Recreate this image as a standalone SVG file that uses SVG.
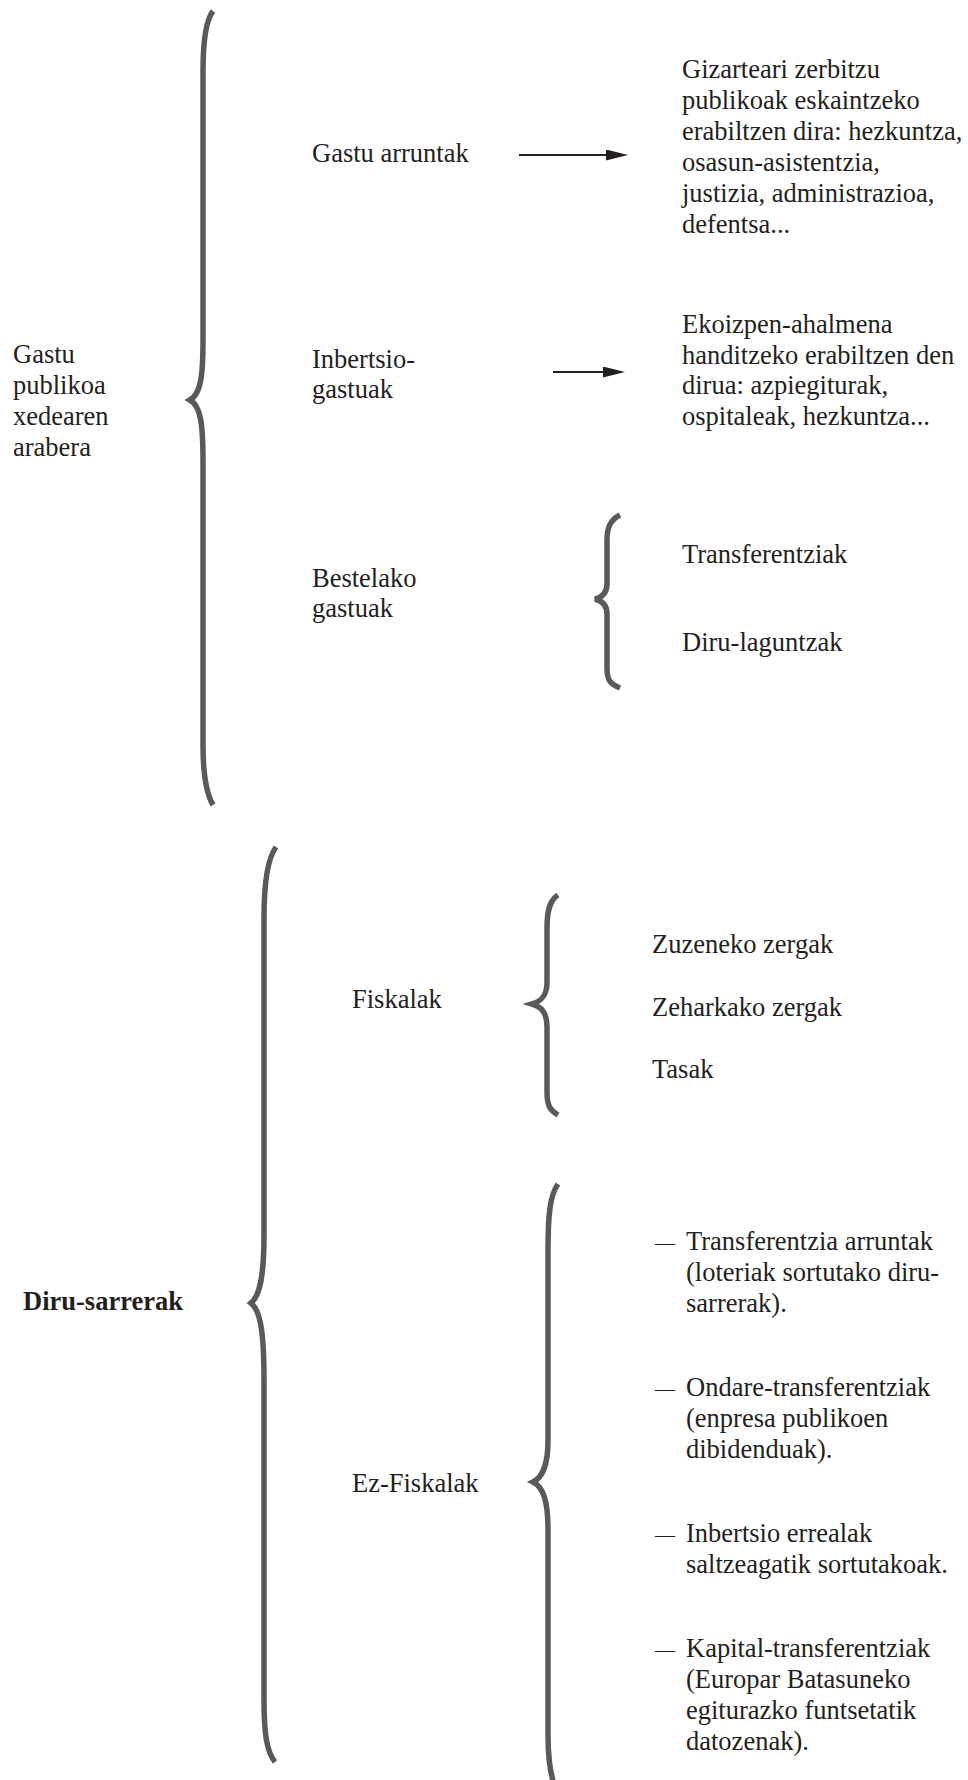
<svg xmlns="http://www.w3.org/2000/svg" width="968" height="1780" viewBox="0 0 968 1780">
  <style>
    text { font-family: "Liberation Serif", "Times New Roman", serif; font-size: 26.5px; fill: #231f20; }
    .bold { font-weight: bold; }
    .dash { font-size: 20px; }
    .brace { fill: none; stroke: #58595b; stroke-width: 5.5; stroke-linecap: butt; stroke-linejoin: miter; }
    .arrow { stroke: #231f20; stroke-width: 2; fill: none; marker-end: url(#head); }
  </style>
  <defs>
    <marker id="head" markerUnits="userSpaceOnUse" markerWidth="24" markerHeight="12" refX="2" refY="5.5" orient="auto">
      <path d="M0,0 L22,5.5 L0,11 Z" fill="#231f20"/>
    </marker>
  </defs>
  <rect width="968" height="1780" fill="#ffffff"/>

  <!-- braces -->
  <g id="braces">
    <path id="brace-gastu" class="brace" d="M213,11 C206,20 203,40 203,72 L203,340 C203,375 201,394 190,400 C201,406 203,425 203,462 L203,745 C203,775 206,793 213,805"/>
    <path id="brace-bestelako" class="brace" d="M620,515 C610,520 607,528 607,540 L607,584 C607,592 603,597 595,599 C603,601 607,606 607,614 L607,668 C607,680 610,684 620,688"/>
    <path id="brace-sarrerak" class="brace" d="M276,847 C268,858 264,880 264,918 L264,1235 C264,1275 260,1296 251,1303 C260,1310 264,1330 264,1380 L264,1700 C264,1735 267,1752 275,1762"/>
    <path id="brace-fiskalak" class="brace" d="M558,895 C550,900 547,910 547,928 L547,982 C547,995 542,1001 532,1004 C542,1007 547,1013 547,1027 L547,1092 C547,1106 550,1110 558,1115"/>
    <path id="brace-ezfiskalak" class="brace" d="M558,1184 C550,1195 548,1215 548,1250 L548,1440 C548,1465 543,1477 533,1482 C543,1487 548,1500 548,1530 L548,1735 C548,1760 550,1772 554,1784"/>
  </g>

  <!-- connectors -->
  <g id="connectors">
    <line class="arrow" x1="519" y1="155" x2="608" y2="155"/>
    <line class="arrow" x1="553" y1="372" x2="605" y2="372"/>
  </g>

  <!-- expenditure side -->
  <g id="node-gastu-publikoa">
    <text x="13" y="363">Gastu</text>
    <text x="13" y="394">publikoa</text>
    <text x="13" y="425">xedearen</text>
    <text x="13" y="456">arabera</text>
  </g>
  <g id="node-gastu-arruntak">
    <text x="312" y="162">Gastu arruntak</text>
  </g>
  <g id="node-arruntak-desc">
    <text x="682" y="78">Gizarteari zerbitzu</text>
    <text x="682" y="109">publikoak eskaintzeko</text>
    <text x="682" y="140">erabiltzen dira: hezkuntza,</text>
    <text x="682" y="171">osasun-asistentzia,</text>
    <text x="682" y="202">justizia, administrazioa,</text>
    <text x="682" y="233">defentsa...</text>
  </g>
  <g id="node-inbertsio-gastuak">
    <text x="312" y="368">Inbertsio-</text>
    <text x="312" y="398">gastuak</text>
  </g>
  <g id="node-inbertsio-desc">
    <text x="682" y="333">Ekoizpen-ahalmena</text>
    <text x="682" y="364">handitzeko erabiltzen den</text>
    <text x="682" y="394">dirua: azpiegiturak,</text>
    <text x="682" y="425">ospitaleak, hezkuntza...</text>
  </g>
  <g id="node-bestelako">
    <text x="312" y="587">Bestelako</text>
    <text x="312" y="617">gastuak</text>
  </g>
  <g id="node-transferentziak">
    <text x="682" y="563">Transferentziak</text>
  </g>
  <g id="node-diru-laguntzak">
    <text x="682" y="651">Diru-laguntzak</text>
  </g>

  <!-- revenue side -->
  <g id="node-diru-sarrerak">
    <text class="bold" x="23" y="1310">Diru-sarrerak</text>
  </g>
  <g id="node-fiskalak">
    <text x="352" y="1008">Fiskalak</text>
  </g>
  <g id="node-zuzeneko">
    <text x="652" y="953">Zuzeneko zergak</text>
  </g>
  <g id="node-zeharkako">
    <text x="652" y="1016">Zeharkako zergak</text>
  </g>
  <g id="node-tasak">
    <text x="652" y="1078">Tasak</text>
  </g>
  <g id="node-ez-fiskalak">
    <text x="352" y="1492">Ez-Fiskalak</text>
  </g>
  <g id="node-transferentzia-arruntak">
    <text x="655" y="1250" class="dash">—</text>
    <text x="686" y="1250">Transferentzia arruntak</text>
    <text x="686" y="1281">(loteriak sortutako diru-</text>
    <text x="686" y="1312">sarrerak).</text>
  </g>
  <g id="node-ondare">
    <text x="655" y="1396" class="dash">—</text>
    <text x="686" y="1396">Ondare-transferentziak</text>
    <text x="686" y="1427">(enpresa publikoen</text>
    <text x="686" y="1458">dibidenduak).</text>
  </g>
  <g id="node-inbertsio-errealak">
    <text x="655" y="1542" class="dash">—</text>
    <text x="686" y="1542">Inbertsio errealak</text>
    <text x="686" y="1573">saltzeagatik sortutakoak.</text>
  </g>
  <g id="node-kapital">
    <text x="655" y="1657" class="dash">—</text>
    <text x="686" y="1657">Kapital-transferentziak</text>
    <text x="686" y="1688">(Europar Batasuneko</text>
    <text x="686" y="1719">egiturazko funtsetatik</text>
    <text x="686" y="1750">datozenak).</text>
  </g>
</svg>
